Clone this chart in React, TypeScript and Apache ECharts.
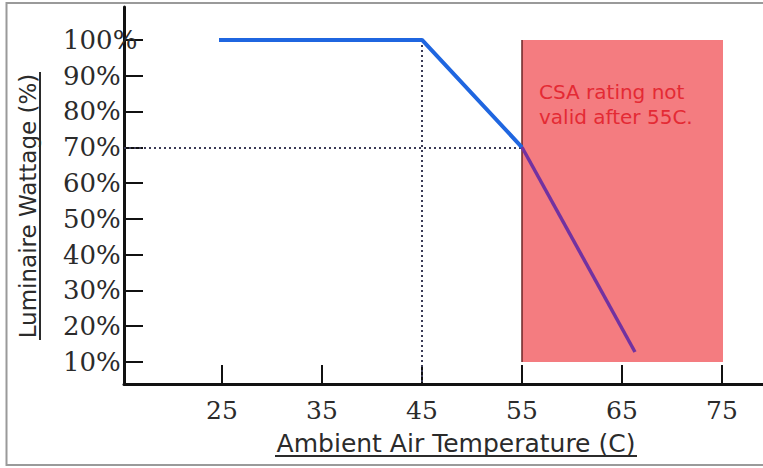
import React, { useEffect, useRef } from "react";
import * as echarts from "echarts";

// Data
const blueTemps = [24.7, 45, 55];
const blueWattage = [100, 100, 70];
const purpleTemps = [55, 66.3];
const purpleWattage = [70, 12.8];
const xTickValues = [25, 35, 45, 55, 65, 75];
const yTickValues = [10, 20, 30, 40, 50, 60, 70, 80, 90, 100];
const invalidZoneTemps = [55, 75.1];
const invalidZoneWattage = [10, 100];
const guideKneeTemp = 45;
const guideWattage = 70;
const guideTemp = 55;
const noteText = "CSA rating not\nvalid after 55C.";
const xTitle = "Ambient Air Temperature (C)";
const yTitle = "Luminaire Wattage (%)";

const X_MIN = 15.2;
const X_MAX = 79.1;
const Y_MIN = 3.85;
const Y_MAX = 109.2;

export default function App() {
  const ref = useRef<HTMLDivElement>(null);
  useEffect(() => {
    document.body.style.margin = "0";
    if (!ref.current) return;
    const chart = echarts.init(ref.current, null, { renderer: "svg" });
    const labelColor = "#2b2b2b";
    chart.setOption({
      animation: false,
      backgroundColor: "#ffffff",
      grid: { left: 124, top: 7, right: 0, bottom: 84, containLabel: false, outerBoundsMode: "none" },
      xAxis: {
        type: "value",
        min: X_MIN,
        max: X_MAX,
        splitLine: { show: false },
        axisLine: { show: true, lineStyle: { color: "#111", width: 3 } },
        axisTick: { show: true, inside: true, length: 19, customValues: xTickValues, lineStyle: { color: "#111", width: 2 } },
        axisLabel: {
          customValues: xTickValues,
          margin: 14,
          color: labelColor,
          fontFamily: "DejaVu Serif",
          fontSize: 25,
        },
      },
      yAxis: {
        type: "value",
        min: Y_MIN,
        max: Y_MAX,
        splitLine: { show: false },
        axisLine: { show: true, lineStyle: { color: "#111", width: 3 } },
        axisTick: { show: true, inside: true, length: 19, customValues: yTickValues, lineStyle: { color: "#111", width: 2 } },
        axisLabel: {
          customValues: yTickValues,
          margin: 61,
          align: "left",
          color: labelColor,
          fontFamily: "DejaVu Serif",
          fontSize: 26,
          formatter: (v: number) => `${v}%`,
        },
      },
      graphic: [
        {
          type: "rect",
          z: -10,
          silent: true,
          shape: { x: 6.5, y: 3, width: 800, height: 462 },
          style: { fill: "none", stroke: "#9a9a9a", lineWidth: 2 },
        },
        {
          type: "text",
          x: 456,
          y: 443,
          style: {
            text: xTitle,
            fontFamily: "DejaVu Sans",
            fontSize: 25,
            fill: labelColor,
            align: "center",
            verticalAlign: "middle",
          },
        },
        {
          type: "line",
          shape: { x1: 275, y1: 456, x2: 637, y2: 456 },
          style: { stroke: labelColor, lineWidth: 2 },
        },
        {
          type: "text",
          x: 28,
          y: 206,
          rotation: Math.PI / 2,
          style: {
            text: yTitle,
            fontFamily: "DejaVu Sans",
            fontSize: 23,
            fill: labelColor,
            align: "center",
            verticalAlign: "middle",
          },
        },
        {
          type: "line",
          shape: { x1: 40, y1: 72, x2: 40, y2: 340 },
          style: { stroke: labelColor, lineWidth: 2 },
        },
      ],
      series: [
        {
          type: "line",
          name: "Rated",
          data: blueTemps.map((t, i) => [t, blueWattage[i]]),
          symbol: "none",
          z: 5,
          lineStyle: { color: "#1f66e0", width: 4 },
          markLine: {
            silent: true,
            symbol: "none",
            label: { show: false },
            lineStyle: { color: "#3a3a55", width: 2, type: [2, 3] },
            data: [
              [{ coord: [X_MIN, guideWattage] }, { coord: [guideTemp, guideWattage] }],
              [{ coord: [guideKneeTemp, 100] }, { coord: [guideKneeTemp, Y_MIN] }],
            ],
          },
        },
        {
          type: "line",
          name: "Beyond CSA",
          data: purpleTemps.map((t, i) => [t, purpleWattage[i]]),
          symbol: "none",
          z: 6,
          lineStyle: { color: "#7232a0", width: 3.5 },
          markArea: {
            silent: true,
            itemStyle: { color: "#f47c80" },
            label: {
              show: true,
              position: "insideTopLeft",
              distance: 0,
              padding: [40, 0, 0, 17],
              color: "#e42a34",
              fontFamily: "DejaVu Sans",
              fontSize: 20,
              lineHeight: 25,
              formatter: noteText,
            },
            data: [
              [
                { coord: [invalidZoneTemps[0], invalidZoneWattage[0]] },
                { coord: [invalidZoneTemps[1], invalidZoneWattage[1]] },
              ],
            ],
          },
          markLine: {
            silent: true,
            symbol: "none",
            label: { show: false },
            lineStyle: { color: "#6a2424", width: 1.5, type: "solid" },
            data: [[{ coord: [guideTemp, invalidZoneWattage[1]] }, { coord: [guideTemp, invalidZoneWattage[0]] }]],
          },
        },
      ],
    });
    return () => chart.dispose();
  }, []);
  return <div ref={ref} style={{ width: 763, height: 468 }} />;
}
